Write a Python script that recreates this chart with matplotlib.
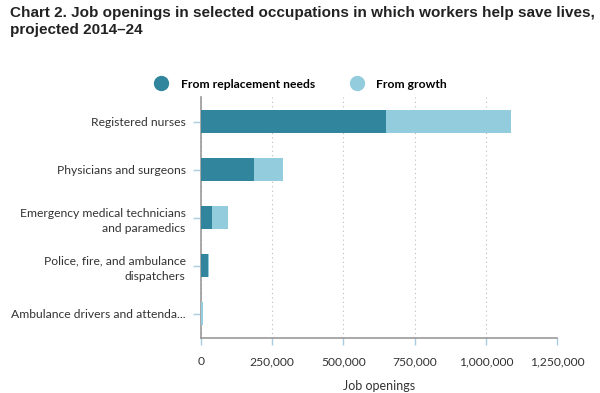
import matplotlib
matplotlib.use("Agg")
import matplotlib.pyplot as plt
from matplotlib.lines import Line2D
from matplotlib.ticker import FuncFormatter

occupations = [
    "Registered nurses",
    "Physicians and surgeons",
    "Emergency medical technicians\nand paramedics",
    "Police, fire, and ambulance\ndispatchers",
    "Ambulance drivers and attenda...",
]
replacement = [649100, 187100, 37000, 25000, 1500]
growth = [439300, 99300, 58500, 2000, 6500]
x_ticks = [0, 250000, 500000, 750000, 1000000, 1250000]

dark = "#31859C"
light = "#93CDDD"
tick_blue = "#A9CCE3"
text_col = "#333333"
label_font = "Lato"

fig = plt.figure(figsize=(6, 3.93), dpi=100)
ax = fig.add_axes([0.335, 0.14, 0.5933, 0.612])

ypos = list(range(len(occupations)))
ax.barh(ypos, replacement, height=0.48, color=dark, zorder=3)
ax.barh(ypos, growth, left=replacement, height=0.48, color=light, zorder=3)

ax.set_xlim(0, 1250000)
ax.set_ylim(len(occupations) - 0.5, -0.5)
ax.set_xticks(x_ticks)
ax.xaxis.set_major_formatter(FuncFormatter(lambda v, p: "{:,.0f}".format(v)))
ax.set_yticks(ypos)
ax.set_yticklabels(occupations)

for lab in ax.get_yticklabels() + ax.get_xticklabels():
    lab.set_fontfamily(label_font)
    lab.set_fontsize(8.7)
    lab.set_color(text_col)
for lab in ax.get_yticklabels():
    lab.set_multialignment("right")
    lab.set_linespacing(1.45)

ax.tick_params(axis="y", length=6, width=1, color=tick_blue, pad=5)
ax.tick_params(axis="x", length=5, width=1, color=tick_blue, pad=8)

ax.grid(axis="x", linestyle=(0, (1, 3)), color="#BBBBBB", linewidth=0.8, zorder=0)
for side in ["top", "right"]:
    ax.spines[side].set_visible(False)
for side in ["left", "bottom"]:
    ax.spines[side].set_color("#999999")
    ax.spines[side].set_linewidth(1.2)

ax.set_xlabel("Job openings", fontfamily=label_font, fontsize=9, color=text_col, labelpad=9)

fig.text(0.017, 0.985,
         "Chart 2. Job openings in selected occupations in which workers help save lives,\nprojected 2014\u201324",
         fontfamily="Liberation Sans", fontweight="bold", fontsize=11, color="#222222",
         va="top", ha="left", linespacing=1.25)

handles = [
    Line2D([], [], marker="o", linestyle="none", markersize=10, color=dark),
    Line2D([], [], marker="o", linestyle="none", markersize=10, color=light),
]
fig.legend(handles, ["From replacement needs", "From growth"], loc="center",
           bbox_to_anchor=(0.497, 0.786), ncol=2, frameon=False, handletextpad=0.6,
           columnspacing=2.5, prop={"family": label_font, "weight": "bold", "size": 8.7})

fig.savefig("out.png", dpi=100, facecolor="white")
